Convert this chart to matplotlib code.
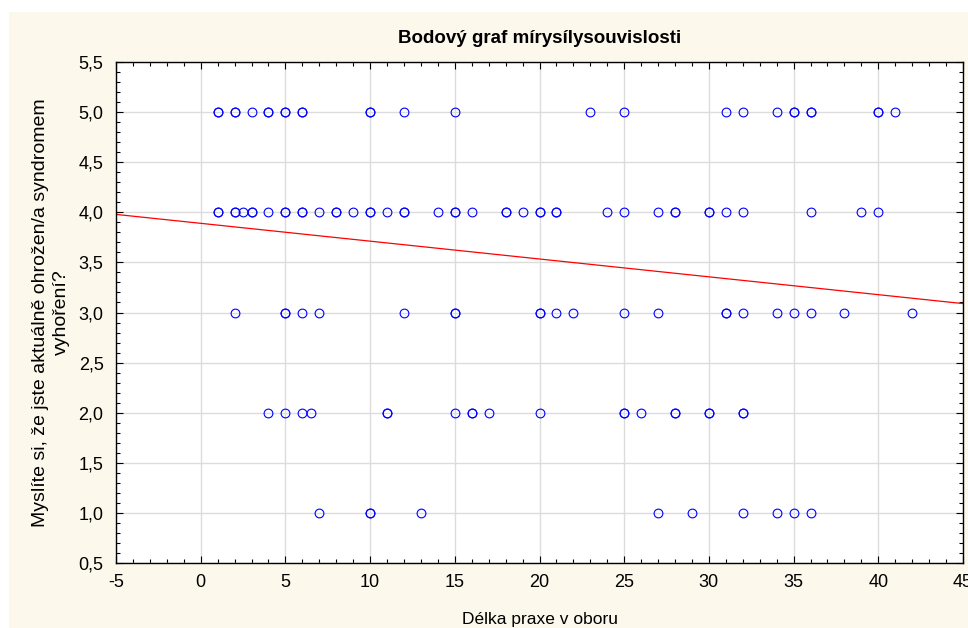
import matplotlib
matplotlib.use('Agg')
import matplotlib.pyplot as plt
from matplotlib.ticker import MultipleLocator, FuncFormatter
from matplotlib.patches import Rectangle

plt.rcParams['font.family'] = ['Liberation Sans', 'DejaVu Sans']

# data (repeated values = overlapping points)
x_5 = [1, 1, 2, 2, 3, 4, 4, 5, 5, 6, 6, 10, 10, 12, 15, 23, 25, 31, 32, 34, 35, 35, 36, 36, 40, 40, 41]
x_4 = [1, 1, 2, 2, 2.5, 3, 3, 4, 5, 5, 6, 6, 7, 8, 8, 9, 10, 10, 11, 12, 12, 14, 15, 15, 16,
       18, 18, 19, 20, 20, 21, 21, 24, 25, 27, 28, 28, 30, 30, 31, 32, 36, 39, 40]
x_3 = [2, 5, 5, 6, 7, 12, 15, 15, 20, 20, 21, 22, 25, 27, 31, 31, 32, 34, 35, 36, 38, 42]
x_2 = [4, 5, 6, 6.5, 11, 11, 15, 16, 16, 17, 20, 25, 25, 26, 28, 28, 30, 30, 32, 32]
x_1 = [7, 10, 10, 13, 27, 29, 32, 34, 35, 36]

# fitted line
intercept = 3.89
slope = -0.0178

title = 'Bodový graf mírysílysouvislosti'
xlabel = 'Délka praxe v oboru'
ylabel = 'Myslíte si, že jste aktuálně ohrožen/a syndromem\nvyhoření?'

fig = plt.figure(figsize=(9.68, 6.28), dpi=100, facecolor='white')
fig.add_artist(Rectangle((9/968, 0), 1, 1 - 12/628, transform=fig.transFigure,
                         facecolor='#fdf8ec', edgecolor='none', zorder=-10))
ax = fig.add_axes([116/968, 65/628, 847/968, 501/628])
ax.set_facecolor('white')

xs = x_5 + x_4 + x_3 + x_2 + x_1
ys = [5.0]*len(x_5) + [4.0]*len(x_4) + [3.0]*len(x_3) + [2.0]*len(x_2) + [1.0]*len(x_1)
ax.plot(xs, ys, 'o', mfc='none', mec='#0000ff', ms=6.3, mew=0.8, zorder=3, clip_on=False)

lx = [-5, 45]
ax.plot(lx, [intercept + slope*v for v in lx], color='#ff0000', lw=0.9, zorder=2)

ax.set_xlim(-5, 45)
ax.set_ylim(0.5, 5.5)
ax.xaxis.set_major_locator(MultipleLocator(5))
ax.xaxis.set_minor_locator(MultipleLocator(1))
ax.yaxis.set_major_locator(MultipleLocator(0.5))
ax.yaxis.set_minor_locator(MultipleLocator(0.1))
ax.yaxis.set_major_formatter(FuncFormatter(lambda v, p: f'{v:.1f}'.replace('.', ',')))
ax.xaxis.set_major_formatter(FuncFormatter(lambda v, p: f'{v:.0f}'))
ax.tick_params(which='both', direction='in', top=True, right=True, labelsize=13, color='black')
ax.tick_params(which='major', length=5, width=0.8)
ax.tick_params(axis='x', which='major', pad=8)
ax.tick_params(axis='y', which='major', pad=9)
ax.tick_params(which='minor', length=3, width=0.8)
ax.grid(True, which='major', color='#dcdcdc', lw=1)
ax.set_axisbelow(True)
for s in ax.spines.values():
    s.set_linewidth(1)
    s.set_color('black')

ax.set_title(title, fontsize=13.5, fontweight='bold', pad=14)
ax.set_xlabel(xlabel, fontsize=12.5, labelpad=15)
ax.set_ylabel(ylabel, fontsize=14, labelpad=6, linespacing=1.3)

fig.savefig('out.png', dpi=100, facecolor=fig.get_facecolor())
